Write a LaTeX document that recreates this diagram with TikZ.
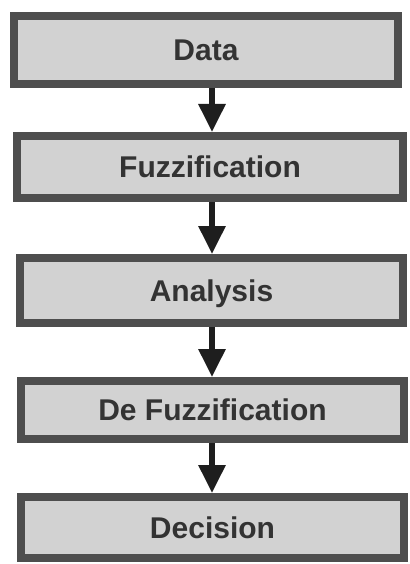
\documentclass[tikz,border=0pt]{standalone}
\usepackage{fontspec}
\setmainfont{Liberation Sans}
\usetikzlibrary{arrows.meta}

\definecolor{boxfill}{HTML}{D2D2D2}
\definecolor{boxline}{HTML}{4E4E4E}
\definecolor{boxhl}{HTML}{E2E2E2}
\definecolor{labeltext}{HTML}{333333}
\definecolor{arrowcol}{HTML}{1E1E1E}

\tikzset{
  stagebox/.style={
    draw=boxline, fill=boxfill, line width=8pt, outer sep=4pt, inner sep=0pt,
    font=\fontsize{30}{36}\selectfont\bfseries, text=labeltext,
    text height=21.5pt, text depth=0pt,
    append after command={
      [draw=boxhl, line width=1.4pt]
      ([shift={(8.7pt,-8.7pt)}]\tikzlastnode.north west)
      rectangle ([shift={(-8.7pt,8.7pt)}]\tikzlastnode.south east)
    }
  },
  flow/.style={
    draw=arrowcol, line width=6pt,
    -{Triangle[width=26pt,length=28pt]}
  }
}

\begin{document}
\begin{tikzpicture}
  \fill[white] (0,0) rectangle (409pt,-564pt);
  \useasboundingbox (0,0) rectangle (409pt,-564pt);

  % process stages
  \node[stagebox, minimum width=384pt, minimum height=68pt] (data)   at (206pt,-50pt)    {Data};
  \node[stagebox, minimum width=386pt, minimum height=62pt] (fuzz)   at (210pt,-167pt)   {Fuzzification};
  \node[stagebox, minimum width=383pt, minimum height=65pt] (anal)   at (211.5pt,-290.5pt) {Analysis};
  \node[stagebox, minimum width=383pt, minimum height=58pt] (defuzz) at (212.5pt,-410pt) {De Fuzzification};
  \node[stagebox, minimum width=383pt, minimum height=61pt] (decide) at (212.5pt,-527.5pt) {Decision};

  % vertical axis of the arrows
  \coordinate (ax) at (212pt,0);

  \draw[flow] (data.south -| ax)   -- (fuzz.north -| ax);
  \draw[flow] (fuzz.south -| ax)   -- (anal.north -| ax);
  \draw[flow] (anal.south -| ax)   -- (defuzz.north -| ax);
  \draw[flow] (defuzz.south -| ax) -- (decide.north -| ax);
\end{tikzpicture}
\end{document}
